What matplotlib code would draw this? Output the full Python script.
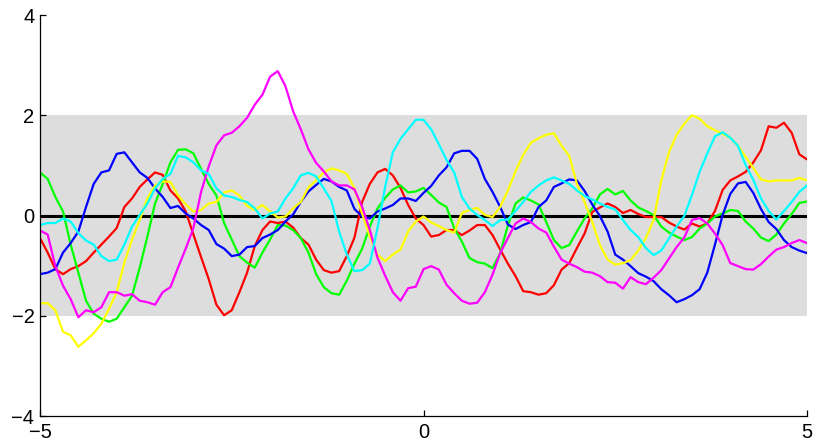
import numpy as np
import matplotlib
matplotlib.use("Agg")
import matplotlib.pyplot as plt

x = np.linspace(-5, 5, 101)

red = [-0.45, -0.74, -1.07, -1.17, -1.07, -1.01, -0.91, -0.74, -0.58, -0.42,
       -0.25, 0.17, 0.34, 0.57, 0.72, 0.86, 0.81, 0.50, 0.34, 0.08,
       -0.38, -0.83, -1.27, -1.78, -1.99, -1.89, -1.53, -1.14, -0.61, -0.29,
       -0.12, -0.15, -0.12, -0.24, -0.45, -0.58, -0.88, -1.09, -1.14, -1.11,
       -0.81, -0.44, 0.27, 0.63, 0.86, 0.93, 0.80, 0.55, 0.21, -0.06,
       -0.19,
       -0.42, -0.39, -0.29, -0.29, -0.39, -0.30, -0.19, -0.19, -0.39, -0.68,
       -0.96, -1.21, -1.51, -1.53, -1.58, -1.55, -1.39, -1.08, -0.95, -0.65,
       -0.36, 0.07, 0.16, 0.24, 0.17, 0.05, 0.11, 0.03, -0.03, -0.03,
       -0.03, -0.14, -0.22, -0.28, -0.16, -0.22, -0.16, 0.09, 0.51, 0.70,
       0.78, 0.87, 1.06, 1.30, 1.78, 1.75, 1.85, 1.65, 1.22, 1.12]
green = [0.86, 0.73, 0.37, 0.08, -0.58, -1.14, -1.70, -1.96, -2.06, -2.12,
         -2.06, -1.83, -1.60, -1.04, -0.42, 0.24, 0.63, 1.06, 1.31, 1.32,
         1.24, 0.93, 0.63, 0.40, -0.15, -0.48, -0.81, -0.94, -1.04, -0.74,
         -0.48, -0.19, -0.20, -0.29, -0.45, -0.74, -1.17, -1.43, -1.55, -1.58,
         -1.30, -0.96, -0.66, -0.22, 0.14, 0.35, 0.52, 0.60, 0.46, 0.48,
         0.55,
         0.41, 0.26, 0.17, -0.25, -0.52, -0.85, -0.93, -0.96, -1.05, -0.75,
         -0.20, 0.24, 0.36, 0.30, 0.22, -0.13, -0.49, -0.65, -0.59, -0.32,
         -0.06, 0.14, 0.42, 0.53, 0.42, 0.49, 0.30, 0.16, 0.09, 0.01,
         -0.22, -0.34, -0.42, -0.49, -0.43, -0.26, -0.16, -0.02, 0.04, 0.11,
         0.09, -0.12, -0.26, -0.44, -0.51, -0.38, -0.16, 0.03, 0.25, 0.28]
blue = [-1.17, -1.14, -1.07, -0.74, -0.55, -0.32, 0.17, 0.63, 0.86, 0.90,
        1.23, 1.26, 1.06, 0.86, 0.75, 0.54, 0.37, 0.15, 0.19, 0.04,
        -0.06, -0.19, -0.29, -0.57, -0.66, -0.81, -0.78, -0.63, -0.61, -0.45,
        -0.38, -0.29, -0.12, 0.02, 0.27, 0.48, 0.61, 0.73, 0.68, 0.57,
        0.50, 0.13, -0.02, -0.06, 0.08, 0.14, 0.21, 0.34, 0.34, 0.29,
        0.45,
        0.59, 0.80, 0.96, 1.24, 1.29, 1.29, 1.13, 0.73, 0.47, 0.17,
        -0.18, -0.27, -0.19, -0.13, 0.17, 0.30, 0.57, 0.64, 0.72, 0.70,
        0.49, 0.22, -0.01, -0.32, -0.78, -0.88, -1.01, -1.15, -1.22, -1.31,
        -1.47, -1.59, -1.73, -1.67, -1.59, -1.47, -1.14, -0.58, 0.01, 0.43,
        0.64, 0.67, 0.45, 0.13, -0.13, -0.27, -0.49, -0.63, -0.70, -0.75]
yellow = [-1.75, -1.75, -1.89, -2.32, -2.39, -2.62, -2.49, -2.35, -2.16, -1.86,
          -1.53, -0.94, -0.48, -0.09, 0.34, 0.60, 0.68, 0.67, 0.40, 0.22,
          0.08, 0.11, 0.24, 0.27, 0.46, 0.50, 0.40, 0.19, 0.11, 0.21,
          0.08, -0.04, -0.02, 0.14, 0.27, 0.56, 0.70, 0.86, 0.94, 0.90,
          0.83, 0.54, 0.04, -0.42, -0.78, -0.91, -0.78, -0.68, -0.32, -0.12,
          -0.02,
          -0.14, -0.21, -0.29, -0.34, 0.05, 0.11, 0.15, 0.01, -0.03, 0.17,
          0.50, 0.88, 1.21, 1.45, 1.54, 1.61, 1.64, 1.39, 1.19, 0.63,
          0.27, -0.13, -0.59, -0.88, -0.98, -0.95, -0.89, -0.70, -0.45, -0.09,
          0.70, 1.26, 1.61, 1.83, 2.00, 1.93, 1.78, 1.70, 1.63, 1.55,
          1.39, 1.17, 0.95, 0.72, 0.68, 0.70, 0.70, 0.70, 0.75, 0.70]
magenta = [-0.30, -0.38, -1.01, -1.40, -1.67, -2.03, -1.89, -1.93, -1.83, -1.53,
           -1.53, -1.60, -1.57, -1.70, -1.73, -1.78, -1.53, -1.43, -1.04, -0.66,
           -0.25, 0.47, 0.98, 1.40, 1.60, 1.65, 1.78, 1.95, 2.21, 2.41,
           2.77, 2.88, 2.58, 2.08, 1.72, 1.32, 1.05, 0.88, 0.68, 0.60,
           0.60, 0.52, 0.17, -0.29, -0.84, -1.20, -1.53, -1.70, -1.45, -1.42,
           -1.07,
           -1.01, -1.08, -1.38, -1.55, -1.70, -1.76, -1.74, -1.53, -1.18, -0.75,
           -0.45, -0.16, -0.06, -0.13, -0.26, -0.34, -0.62, -0.88, -0.96, -1.03,
           -1.12, -1.14, -1.21, -1.33, -1.34, -1.46, -1.23, -1.33, -1.37, -1.24,
           -1.09, -0.86, -0.63, -0.44, -0.09, -0.05, -0.16, -0.36, -0.59, -0.95,
           -1.01, -1.07, -1.08, -0.97, -0.82, -0.68, -0.63, -0.55, -0.49, -0.55]
cyan = [-0.19, -0.15, -0.15, -0.06, -0.12, -0.35, -0.50, -0.58, -0.81, -0.91,
        -0.88, -0.58, -0.22, 0.01, 0.24, 0.54, 0.73, 0.83, 1.19, 1.16,
        1.06, 0.90, 0.83, 0.54, 0.40, 0.37, 0.31, 0.27, 0.14, -0.06,
        0.04, 0.08, 0.34, 0.54, 0.80, 0.85, 0.78, 0.54, 0.29, -0.32,
        -0.78, -1.11, -1.09, -0.96, -0.25, 0.57, 1.26, 1.53, 1.72, 1.91,
        1.91,
        1.72, 1.42, 1.11, 0.86, 0.37, 0.14, 0.01, -0.09, -0.21, -0.09,
        -0.08, 0.09, 0.27, 0.47, 0.60, 0.70, 0.76, 0.70, 0.63, 0.50,
        0.39, 0.32, 0.24, 0.17, 0.12, -0.09, -0.29, -0.43, -0.65, -0.79,
        -0.70, -0.46, -0.22, -0.01, 0.41, 0.87, 1.24, 1.58, 1.66, 1.55,
        1.39, 1.01, 0.71, 0.34, 0.09, -0.08, 0.09, 0.27, 0.47, 0.60]

series = [(red, "#ff0000"), (green, "#00ff00"), (blue, "#0000ff"),
          (yellow, "#ffff00"), (magenta, "#ff00ff"), (cyan, "#00ffff")]

fig = plt.figure(figsize=(8.14, 4.45), dpi=100)
ax = fig.add_axes([40/814, 29/445, 767/814, 401/445])
ax.fill_between([-5, 5], [-2, -2], [2, 2], color="#dddddd", lw=0, zorder=0)
ax.plot([-5, 5], [0, 0], color="black", lw=2.2, zorder=1)
for ys, c in series:
    ax.plot(x, ys, color=c, lw=1.6, zorder=2)

ax.set_xlim(-5, 5)
ax.set_ylim(-4, 4)
ax.set_xticks([-5, 0, 5])
ax.set_yticks([-4, -2, 0, 2, 4])
ax.set_xticklabels(["\u22125", "0", "5"])
ax.set_yticklabels(["\u22124", "\u22122", "0", "2", "4"])
for s in ["top", "right"]:
    ax.spines[s].set_visible(False)
for s in ["left", "bottom"]:
    ax.spines[s].set_linewidth(0.9)
ax.tick_params(direction="in", length=4, width=0.9, labelsize=14.5)
ax.tick_params(axis="x", pad=5)
ax.tick_params(axis="y", pad=4)
for lab in ax.get_xticklabels() + ax.get_yticklabels():
    lab.set_family("Liberation Sans")
fig.savefig("out.png", dpi=100)
